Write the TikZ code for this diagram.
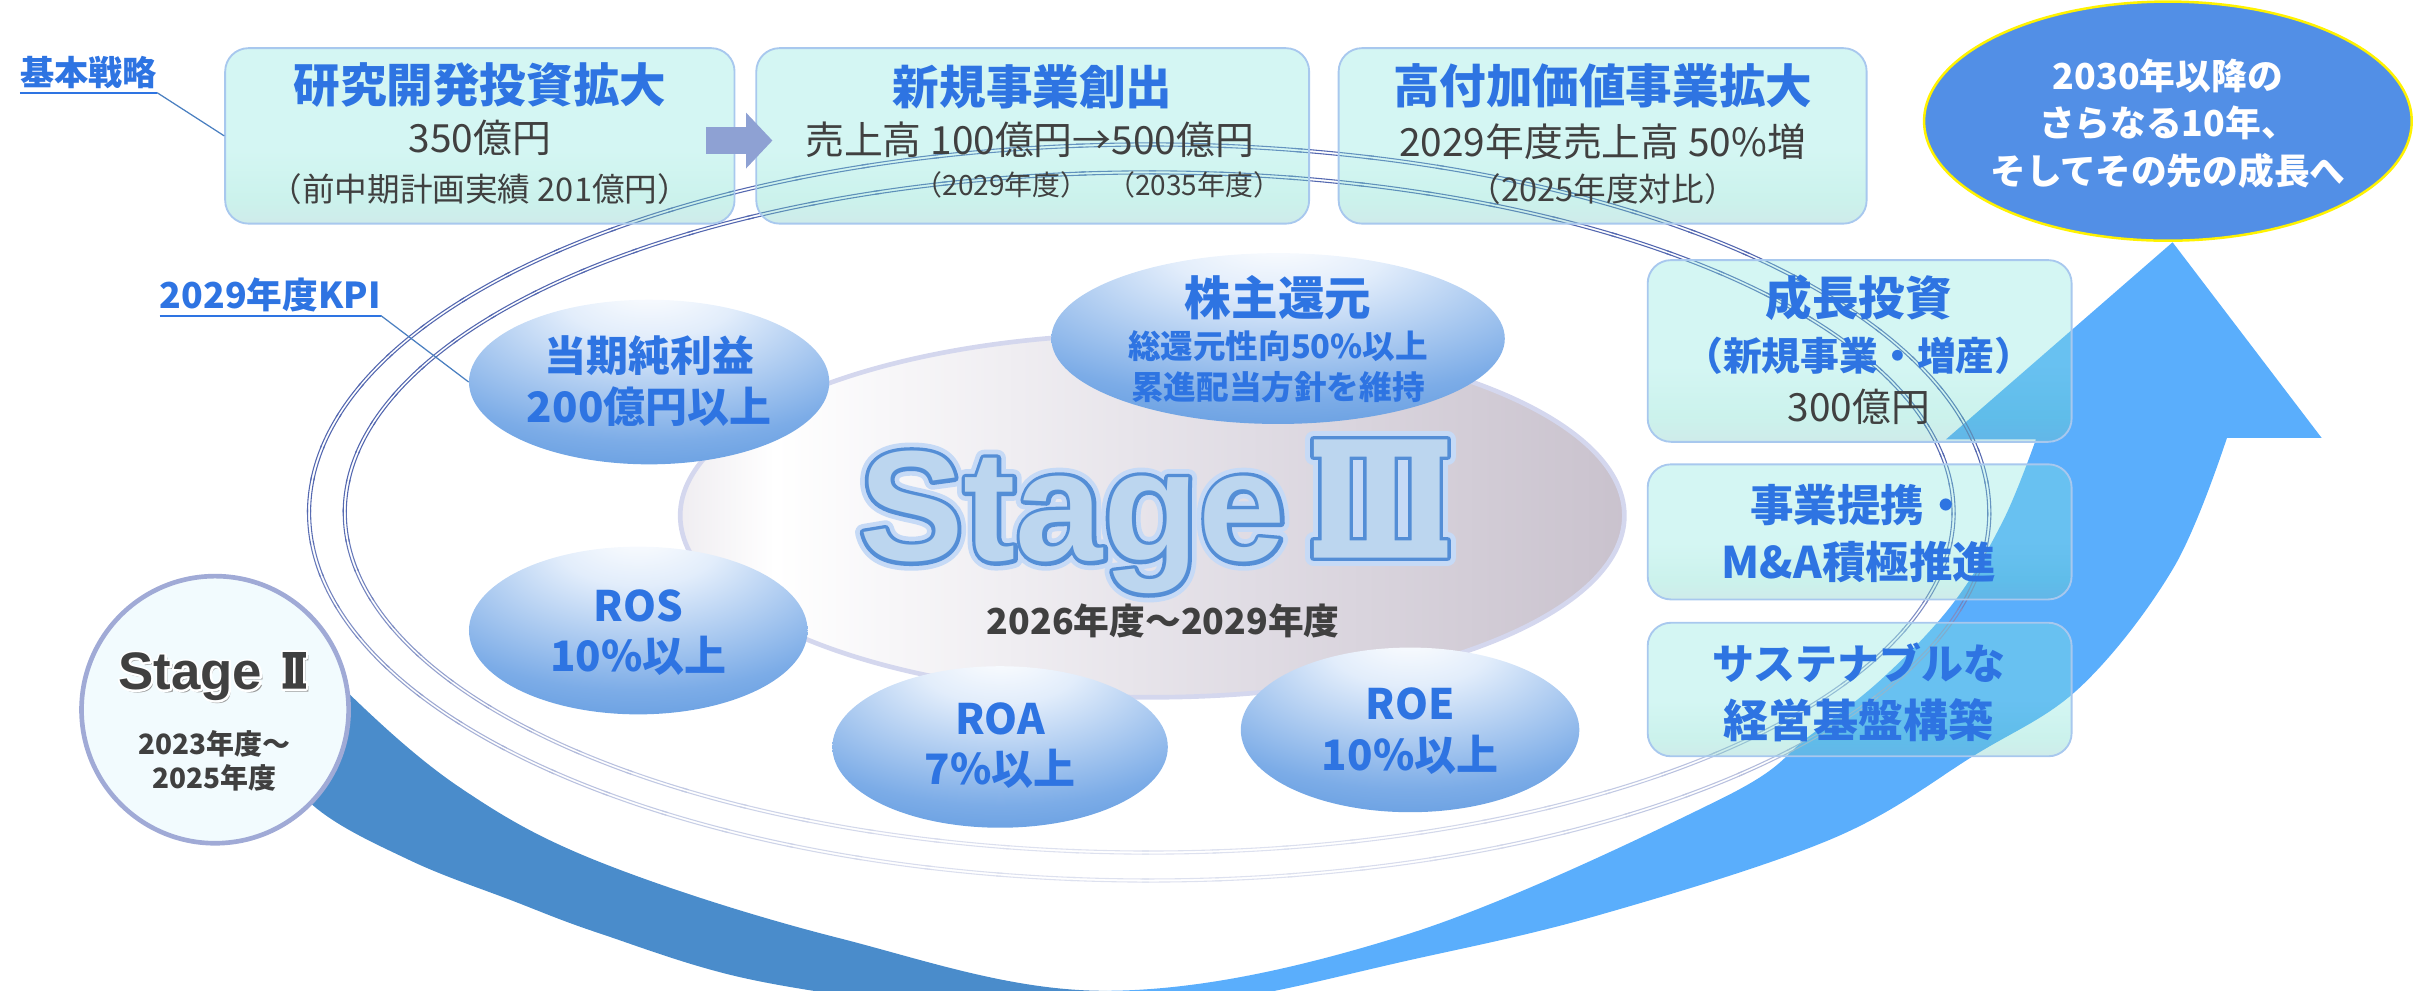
\documentclass[tikz,border=0pt]{standalone}
\usepackage{fontspec}
\setmainfont{Liberation Sans}
\newfontfamily\jp{Noto Sans CJK JP}
\newfontfamily\lib{Liberation Sans}
\usetikzlibrary{shapes.geometric,calc,arrows.meta}

\newcommand\fsz[1]{\fontsize{#1}{#1}\selectfont}
% text render mode (stroke / fill+stroke) for outlined lettering
\newcommand\trtext[3]{\special{pdf:literal direct 1 j 1 J #1 Tr #2 w}#3\special{pdf:literal direct 0 Tr 0 j 0 J}}

\definecolor{blueT}{RGB}{46,116,226}
\definecolor{darkT}{RGB}{64,64,64}
\definecolor{boxBorder}{RGB}{168,200,238}
\definecolor{boxT}{RGB}{132,229,221}
\definecolor{boxC}{RGB}{107,218,201}
\definecolor{boxGC}{RGB}{126,178,189}
\definecolor{boxG}{RGB}{138,146,175}
\definecolor{boxB}{RGB}{0,100,220}
\definecolor{boxB2}{RGB}{30,125,230}
\definecolor{arrS}{RGB}{142,161,211}
\definecolor{futC}{RGB}{82,143,230}
\definecolor{arrDark}{RGB}{74,140,203}
\definecolor{arrLight}{RGB}{90,174,252}
\definecolor{ringC}{RGB}{84,104,176}
\definecolor{stEdgeL}{RGB}{160,148,168}
\definecolor{stEdgeR}{RGB}{160,149,165}
\definecolor{stSoft}{RGB}{198,190,204}
\definecolor{stMid}{RGB}{224,220,228}
\definecolor{stMidR}{RGB}{190,181,194}
\definecolor{stRim}{RGB}{212,215,238}
\definecolor{kA}{RGB}{226,237,251}
\definecolor{kB}{RGB}{124,172,231}
\definecolor{kC}{RGB}{60,131,214}
\definecolor{kD}{RGB}{104,158,225}
\definecolor{s2fill}{RGB}{242,251,254}
\definecolor{s2edge}{RGB}{160,170,214}
\definecolor{glowC}{RGB}{198,218,246}
\definecolor{outC}{RGB}{84,142,214}
\definecolor{fillC}{RGB}{188,214,239}
\definecolor{leadC}{RGB}{74,127,192}

\pgfdeclareverticalshading{boxsh}{100bp}{color(0bp)=(boxB2); color(3bp)=(boxB); color(8bp)=(boxG); color(18bp)=(boxGC); color(32bp)=(boxC); color(46bp)=(boxT); color(100bp)=(boxT)}
\pgfdeclarehorizontalshading{st3}{100bp}{color(0bp)=(stEdgeL); color(12bp)=(stSoft); color(30bp)=(white); color(55bp)=(stMid); color(85bp)=(stMidR); color(100bp)=(stEdgeR)}
\pgfdeclareradialshading{kpi}{\pgfpoint{0bp}{30bp}}{color(0bp)=(white); color(12bp)=(kA); color(35bp)=(kB); color(58bp)=(kC); color(80bp)=(kD)}

\begin{document}
\begin{tikzpicture}[x=1pt,y=-1pt,
  bx/.style={rectangle, rounded corners=15pt, draw=boxBorder, line width=1.2pt, shade, shading=boxsh, fill opacity=0.35, inner sep=0},
  kpi/.style={ellipse, shade, shading=kpi, inner sep=0, draw=none},
  hd/.style={text=blueT, font=\jp\bfseries\fsz{30}, inner sep=0},
  sub/.style={text=darkT, font=\jp\fsz{25}, inner sep=0},
  small/.style={text=darkT, font=\jp\fsz{21}, inner sep=0},
  tiny/.style={text=darkT, font=\jp\fsz{18}, inner sep=0},
  kt/.style={text=blueT, font=\jp\bfseries\fsz{27}, inner sep=0},
  lbl/.style={text=blueT, font=\jp\bfseries\fsz{22}, inner sep=0},
  ul/.style={draw=blueT, line width=1.3pt},
  leader/.style={draw=leadC, line width=0.8pt},
  wt/.style={text=white, font=\jp\bfseries\fsz{23}, inner sep=0},
  bigS/.style={font=\lib\bfseries\fsz{101}, inner sep=0, anchor=base west},
  smS/.style={font=\lib\bfseries\fsz{34}, inner sep=0, anchor=base west}
]
\useasboundingbox (0,0) rectangle (1568,638);
\clip (0,0) rectangle (1568,638);

% ---------- big curved arrow ----------
\def\arrowshape{plot[smooth,tension=0.6] coordinates {(185,400) (224,446) (296,507) (386,555) (540,604) (713,638) (905,602) (1107,515) (1165,474) (1213,436) (1258,388) (1290,335) (1311,283)} -- (1253,283) -- (1399,156) -- (1495,282) -- plot[smooth,tension=0.6] coordinates {(1434,282) (1400,365) (1340,442) (1272,486) (1180,540) (1027,590) (900,620) (800,642) (700,655) (600,648) (480,630) (386,601) (330,580) (264,554) (202,519) (165,470)} -- cycle}
\begin{scope}\clip (0,0) rectangle (713,640); \fill[arrDark] \arrowshape; \end{scope}
\begin{scope}\clip (713,0) rectangle (1568,640); \fill[arrLight] \arrowshape; \end{scope}

% ---------- orbit rings ----------
\foreach \rx/\ry in {541/237,518/219}{
  \foreach \a in {0,5,...,355}{
    \pgfmathsetmacro\m{int(100-80*max(0,sin(\a+2.5)))}
    \foreach \d in {-1,1}{
      \pgfmathsetmacro\ra{\rx+\d}
      \pgfmathsetmacro\rb{\ry+\d}
      \pgfmathsetmacro\px{740+\ra*cos(\a)}
      \pgfmathsetmacro\py{330+\rb*sin(\a)}
      \draw[line width=0.7pt, draw=ringC!\m!white] (\px,\py) arc[start angle=\a, end angle=\a+5.5, x radius=\ra, y radius=\rb];
    }
  }
}

% ---------- Stage III platter ----------
\node[ellipse, minimum width=608pt, minimum height=234pt, draw=stRim, line width=3pt, shade, shading=st3, inner sep=0] (st3) at (742,332) {};

% ---------- KPI ellipses ----------
\node[kpi, minimum width=232pt, minimum height=106pt] (np) at (418,246) {};
\node[kpi, minimum width=292pt, minimum height=110pt] (sh) at (823,218) {};
\node[kpi, minimum width=218pt, minimum height=108pt] (ros) at (411,406) {};
\node[kpi, minimum width=216pt, minimum height=104pt] (roa) at (644,481) {};
\node[kpi, minimum width=218pt, minimum height=106pt] (roe) at (908,470) {};

\node[kt] (np1) at (418,229) {当期純利益};
\node[kt] (np2) at (418,262) {200億円以上};
\node[kt, font=\jp\bfseries\fsz{30}] (sh1) at (823,192) {株主還元};
\node[kt, font=\jp\bfseries\fsz{21}] (sh2) at (823,223) {総還元性向50\%以上};
\node[kt, font=\jp\bfseries\fsz{21}] (sh3) at (823,249) {累進配当方針を維持};
\node[kt] (ros1) at (411,390) {ROS};
\node[kt] (ros2) at (411,422) {10\%以上};
\node[kt] (roa1) at (644,463) {ROA};
\node[kt] (roa2) at (644,495) {7\%以上};
\node[kt] (roe1) at (908,453) {ROE};
\node[kt] (roe2) at (908,486) {10\%以上};

% ---------- Stage III title ----------
\node[bigS, text=glowC] (stgG) at (553,361) {\trtext{1}{11}{Stage}};
\node[bigS, text=outC] (stgO) at (553,361) {\trtext{2}{5}{Stage}};
\node[bigS, text=fillC] (stg) at (553,361) {Stage};
\def\romanIII{(846,283) rectangle (932,294) (846,348) rectangle (932,359) (851,294) rectangle (869,348) (880,294) rectangle (898,348) (909,294) rectangle (927,348)}
\draw[glowC, line width=11pt, line join=round] \romanIII;
\draw[outC, line width=5pt, line join=round] \romanIII;
\fill[fillC] \romanIII;
\node[text=darkT, font=\jp\bfseries\fsz{23}, inner sep=0] (per3) at (749,400) {2026年度〜2029年度};

% ---------- top strategy boxes ----------
\node[bx, minimum width=328pt, minimum height=113pt] (b1) at (309,87.5) {};
\node[bx, minimum width=356pt, minimum height=113pt] (b2) at (665,87.5) {};
\node[bx, minimum width=340pt, minimum height=113pt] (b3) at (1032,87.5) {};

\node[hd] (b1h) at (309,55) {研究開発投資拡大};
\node[sub] (b1s) at (309,89) {350億円};
\node[small] (b1t) at (309,122) {（前中期計画実績 201億円）};

\node[hd] (b2h) at (665,56) {新規事業創出};
\node[sub] (b2s) at (663,90) {売上高 100億円→500億円};
\node[tiny] (b2t) at (645,119) {（2029年度）};
\node[tiny] (b2u) at (769,119) {（2035年度）};

\node[hd] (b3h) at (1032,55) {高付加価値事業拡大};
\node[sub] (b3s) at (1032,91) {2029年度売上高 50\%増};
\node[small] (b3t) at (1032,122) {（2025年度対比）};

\draw[arrS, line width=17pt, -{Triangle[width=35pt,length=17pt]}] ($(b1.east)+(-19,3)$) -- ($(b2.west)+(11,3)$);

% ---------- right boxes ----------
\node[bx, minimum width=273pt, minimum height=117pt] (g1) at (1197.5,226) {};
\node[bx, minimum width=273pt, minimum height=87pt] (g2) at (1197.5,342.5) {};
\node[bx, minimum width=273pt, minimum height=86pt] (g3) at (1197.5,444) {};

\node[hd] (g1h) at (1197,192) {成長投資};
\node[hd, font=\jp\bfseries\fsz{25}] (g1s) at (1197,229) {（新規事業・増産）};
\node[sub] (g1t) at (1197,262) {300億円};
\node[hd, font=\jp\bfseries\fsz{28}] (g2h) at (1197,325) {事業提携・};
\node[hd, font=\jp\bfseries\fsz{28}] (g2s) at (1197,362) {M\&A積極推進};
\node[hd, font=\jp\bfseries\fsz{27}] (g3h) at (1197,427) {サステナブルな};
\node[hd, font=\jp\bfseries\fsz{29}] (g3s) at (1197,464) {経営基盤構築};

% ---------- future ellipse ----------
\node[ellipse, minimum width=314pt, minimum height=154pt, fill=futC, draw=yellow, line width=1.6pt, inner sep=0] (fut) at (1396,78) {};
\node[wt] (f1) at (1396,49) {2030年以降の};
\node[wt] (f2) at (1396,79) {さらなる10年、};
\node[wt] (f3) at (1396,110) {そしてその先の成長へ};

% ---------- Stage II ----------
\node[circle, minimum size=172pt, draw=s2edge, line width=3pt, fill=s2fill, inner sep=0] (s2) at (138.5,457) {};
\node[smS, text=black!40] (s2sh) at (77.6,445.8) {Stage};
\node[smS, text=white] (s2o) at (76,444) {\trtext{2}{2.6}{Stage}};
\node[smS, text=darkT] (s2t) at (76,444) {Stage};
\def\romanII{(182,420) rectangle (197,423.5) (182,440) rectangle (197,443.5) (184,423.5) rectangle (188.6,440) (190.4,423.5) rectangle (195,440)}
\fill[black!40, shift={(1.6,1.8)}] \romanII;
\draw[white, line width=2.6pt, line join=round] \romanII;
\fill[darkT] \romanII;
\node[text=darkT, font=\jp\bfseries\fsz{18}, inner sep=0] (s2a) at (138,479) {2023年度〜};
\node[text=darkT, font=\jp\bfseries\fsz{18}, inner sep=0] (s2b) at (138,501) {2025年度};

% ---------- labels ----------
\node[lbl] (lab1) at (57,47) {基本戦略};
\draw[ul] ($(lab1.south west)+(0,2)$) -- ($(lab1.south east)+(0,2)$);
\draw[leader] ($(lab1.south east)+(0,2)$) -- (b1.west);

\node[lbl, font=\jp\bfseries\fsz{23}] (lab2) at (174,190) {2029年度KPI};
\draw[ul] ($(lab2.south west)+(0,2)$) -- ($(lab2.south east)+(0,2)$);
\draw[leader] ($(lab2.south east)+(0,2)$) -- (np.west);

\end{tikzpicture}
\end{document}
